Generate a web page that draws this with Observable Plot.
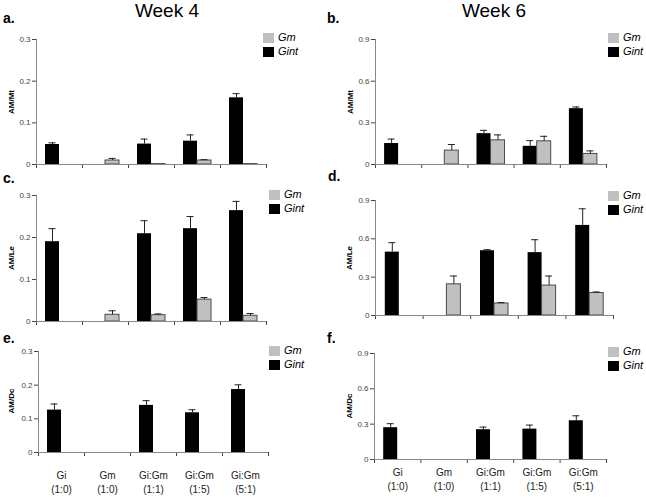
<!DOCTYPE html>
<html>
<head>
<meta charset="utf-8">
<script src="https://cdn.jsdelivr.net/npm/d3@7"></script>
<script src="https://cdn.jsdelivr.net/npm/@observablehq/plot@0.6"></script>
<style>
  body { margin: 0; background: #fff; }
  #root { position: relative; width: 646px; height: 497px; overflow: hidden; background: #fff;
          font-family: "Liberation Sans", Arial, sans-serif; }
  .abs { position: absolute; }
  .title { font-size: 19px; line-height: normal; color: #000; white-space: nowrap; }
  .letter { font-size: 14px; font-weight: bold; color: #000; }
  .ylab { font-size: 8px; font-weight: bold; color: #000; transform: translate(-50%, -50%) rotate(-90deg); white-space: nowrap; }
  .sw { width: 11px; height: 10px; }
  .lt { font-size: 11px; font-style: italic; color: #000; white-space: nowrap; }
</style>
</head>
<body>
<div id="root"></div>
<script>
// ---- data ----
const groupLine1 = ["Gi", "Gm", "Gi:Gm", "Gi:Gm", "Gi:Gm"];
const groupLine2 = ["(1:0)", "(1:0)", "(1:1)", "(1:5)", "(5:1)"];
const series = ["Gm", "Gint"];

const aGint    = [0.048, 0, 0.049, 0.056, 0.160];
const aGintErr = [0.004, 0, 0.012, 0.015, 0.010];
const aGm      = [0, 0.0096, 0.001, 0.0096, 0.001];
const aGmErr   = [0, 0.005, 0, 0.002, 0];

const bGint    = [0.151, 0, 0.222, 0.131, 0.402];
const bGintErr = [0.032, 0, 0.024, 0.041, 0.012];
const bGm      = [0, 0.100, 0.174, 0.167, 0.076];
const bGmErr   = [0, 0.044, 0.039, 0.036, 0.022];

const cGint    = [0.190, 0, 0.209, 0.221, 0.264];
const cGintErr = [0.031, 0, 0.031, 0.029, 0.022];
const cGm      = [0, 0.016, 0.015, 0.052, 0.0136];
const cGmErr   = [0, 0.0095, 0.003, 0.005, 0.0054];

const dGint    = [0.496, 0, 0.507, 0.492, 0.705];
const dGintErr = [0.074, 0, 0.008, 0.101, 0.130];
const dGm      = [0, 0.244, 0.094, 0.234, 0.176];
const dGmErr   = [0, 0.065, 0.007, 0.075, 0.008];

const eGint    = [0.126, 0, 0.140, 0.118, 0.187];
const eGintErr = [0.018, 0, 0.014, 0.009, 0.014];
const eGm      = [0, 0, 0, 0, 0];
const eGmErr   = [0, 0, 0, 0, 0];

const fGint    = [0.270, 0, 0.253, 0.258, 0.329];
const fGintErr = [0.034, 0, 0.022, 0.034, 0.042];
const fGm      = [0, 0, 0, 0, 0];
const fGmErr   = [0, 0, 0, 0, 0];

const ticksW4 = [0, 0.1, 0.2, 0.3];
const ticksW6 = [0, 0.3, 0.6, 0.9];

// ---- layout ----
const root = document.getElementById("root");
function addText(cls, txt, left, top, extra) {
  const d = document.createElement("div");
  d.className = "abs " + cls;
  d.textContent = txt;
  d.style.left = left + "px";
  d.style.top = top + "px";
  if (extra) Object.assign(d.style, extra);
  root.appendChild(d);
  return d;
}

function panel(cfg) {
  const {svgLeft, svgWidth, fx0, fx1, fy0, fy1, bottom, gint, gintErr, gm, gmErr, yTicks, labels, labelDy} = cfg;
  const mt = 10;
  const svgTop = fy0 - mt;
  const height = (fy1 - fy0) + mt + bottom;
  const groupW = (fx1 - fx0) / 5;
  const bw = 14 / groupW;     // bar width in group units
  const cap = 3.5 / groupW;   // half cap width
  const idx = d3.range(5);
  const gintRows = idx.map(i => ({i, v: gint[i], e: gintErr[i]}));
  const gmRows = idx.map(i => ({i, v: gm[i], e: gmErr[i]}));
  const errRows = [
    ...gintRows.filter(d => d.e > 0).map(d => ({...d, c: d.i + 0.5 - bw / 2})),
    ...gmRows.filter(d => d.e > 0).map(d => ({...d, c: d.i + 0.5 + bw / 2}))
  ];
  const marks = [
    Plot.rectY(gintRows.filter(d => d.v > 0), {x1: d => d.i + 0.5 - bw, x2: d => d.i + 0.5, y1: 0, y2: "v", fill: "#000"}),
    Plot.rectY(gmRows.filter(d => d.v > 0), {x1: d => d.i + 0.5, x2: d => d.i + 0.5 + bw, y1: 0, y2: "v", fill: "#c0c0c0", stroke: "#4a4a4a", strokeWidth: 1}),
    Plot.ruleX(errRows, {x: "c", y1: "v", y2: d => d.v + d.e, stroke: "#222", strokeWidth: 1}),
    Plot.ruleY(errRows, {y: d => d.v + d.e, x1: d => d.c - cap, x2: d => d.c + cap, stroke: "#222", strokeWidth: 1}),
    Plot.ruleX([0], {stroke: "#888"}),
    Plot.ruleY([0], {stroke: "#888"})
  ];
  if (labels) {
    marks.push(Plot.text(idx, {x: i => i + 0.5, y: 0, text: i => groupLine1[i] + "\n" + groupLine2[i],
      dy: labelDy, lineAnchor: "top", lineHeight: 1.35, fontSize: 10, fill: "#222"}));
  }
  const svg = Plot.plot({
    width: svgWidth,
    height,
    marginLeft: fx0 - svgLeft,
    marginRight: svgLeft + svgWidth - fx1,
    marginTop: mt,
    marginBottom: bottom,
    style: {fontSize: "8px", fontFamily: "Liberation Sans, Arial, sans-serif", color: "#444", background: "transparent", overflow: "visible"},
    x: {type: "linear", domain: [0, 5], ticks: [0, 1, 2, 3, 4, 5], tickFormat: () => "", tickSize: 4, label: null},
    y: {domain: [0, yTicks[yTicks.length - 1]], ticks: yTicks, tickFormat: d => d === 0 ? "0" : d3.format(".1f")(d), tickSize: 4, tickPadding: 2, label: null},
    marks
  });
  const wrap = document.createElement("div");
  wrap.className = "abs";
  wrap.style.left = svgLeft + "px";
  wrap.style.top = svgTop + "px";
  wrap.appendChild(svg);
  root.appendChild(wrap);
}

function legend(x, y) {
  const s1 = document.createElement("div");
  s1.className = "abs sw"; s1.style.left = x + "px"; s1.style.top = y + "px"; s1.style.background = "#c0c0c0";
  root.appendChild(s1);
  const s2 = document.createElement("div");
  s2.className = "abs sw"; s2.style.left = x + "px"; s2.style.top = (y + 14) + "px"; s2.style.background = "#000";
  root.appendChild(s2);
  addText("lt", series[0], x + 15, y - 2);
  addText("lt", series[1], x + 15, y + 12);
}

// titles
addText("title", "Week 4", 167, 0, {transform: "translateX(-50%)"});
addText("title", "Week 6", 494, 0, {transform: "translateX(-50%)"});

// panels
panel({svgLeft: 0, svgWidth: 300, fx0: 36, fx1: 266, fy0: 39, fy1: 164, bottom: 14, gint: aGint, gintErr: aGintErr, gm: aGm, gmErr: aGmErr, yTicks: ticksW4});
panel({svgLeft: 320, svgWidth: 326, fx0: 375, fx1: 606, fy0: 39, fy1: 164, bottom: 14, gint: bGint, gintErr: bGintErr, gm: bGm, gmErr: bGmErr, yTicks: ticksW6});
panel({svgLeft: 0, svgWidth: 300, fx0: 36, fx1: 266, fy0: 195, fy1: 321, bottom: 14, gint: cGint, gintErr: cGintErr, gm: cGm, gmErr: cGmErr, yTicks: ticksW4});
panel({svgLeft: 320, svgWidth: 326, fx0: 375, fx1: 613, fy0: 200, fy1: 315, bottom: 14, gint: dGint, gintErr: dGintErr, gm: dGm, gmErr: dGmErr, yTicks: ticksW6});
panel({svgLeft: 0, svgWidth: 300, fx0: 38, fx1: 268, fy0: 351, fy1: 452, bottom: 44, gint: eGint, gintErr: eGintErr, gm: eGm, gmErr: eGmErr, yTicks: ticksW4, labels: true, labelDy: 17});
panel({svgLeft: 320, svgWidth: 326, fx0: 374, fx1: 606, fy0: 353, fy1: 459, bottom: 37, gint: fGint, gintErr: fGintErr, gm: fGm, gmErr: fGmErr, yTicks: ticksW6, labels: true, labelDy: 7});

// panel letters
addText("letter", "a.", 3, 10);
addText("letter", "b.", 327, 10);
addText("letter", "c.", 3, 170);
addText("letter", "d.", 328, 168);
addText("letter", "e.", 3, 330);
addText("letter", "f.", 327, 330);

// y labels
addText("ylab", "AM/Mt", 11, 102);
addText("ylab", "AM/Mt", 350, 102);
addText("ylab", "AM/Le", 11, 258);
addText("ylab", "AM/Le", 349, 258);
addText("ylab", "AM/Dc", 11, 401);
addText("ylab", "AM/Dc", 349, 406);

// legends
legend(263, 33);
legend(608, 33);
legend(269, 190);
legend(608, 191);
legend(269, 346);
legend(608, 347);
</script>
</body>
</html>
